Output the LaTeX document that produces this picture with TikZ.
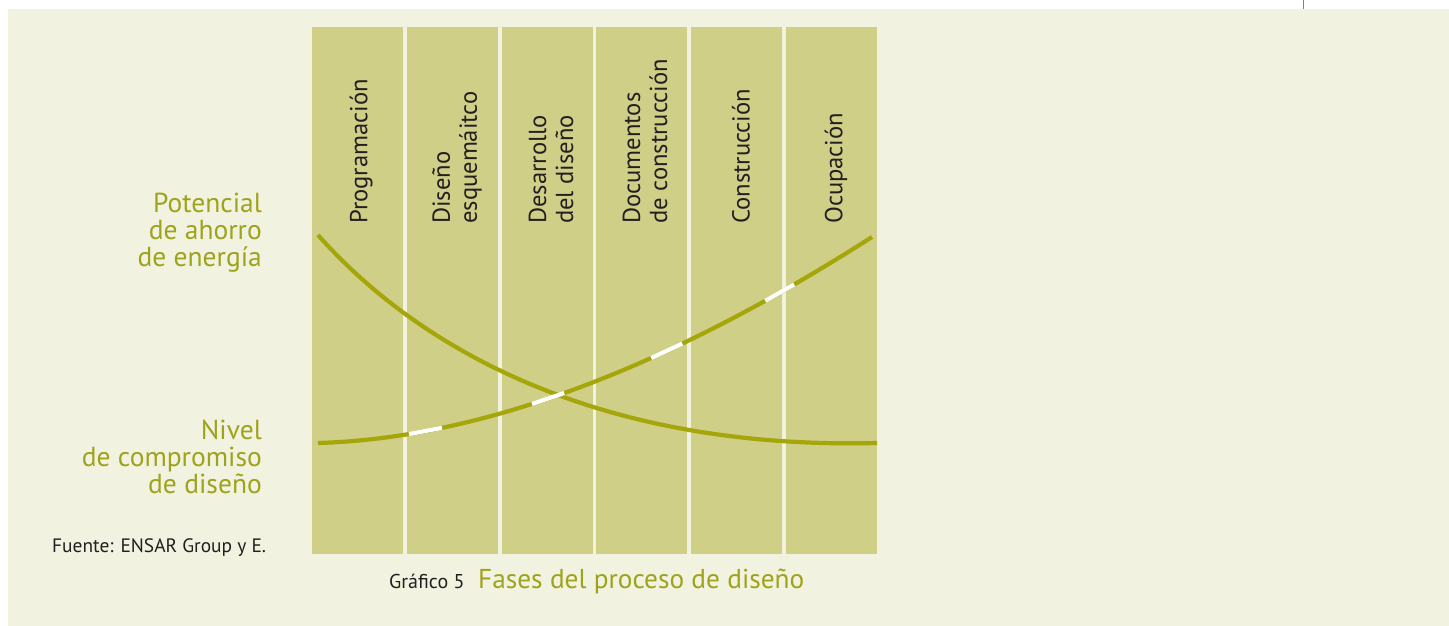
\documentclass[tikz,border=0pt]{standalone}
\usepackage{fontspec}
\setmainfont{PT Sans}
\definecolor{cream}{RGB}{242,242,225}
\definecolor{colfill}{RGB}{208,207,136}
\definecolor{curvecol}{RGB}{165,166,10}
\definecolor{txtgreen}{RGB}{158,163,28}
\definecolor{txtdark}{RGB}{35,31,32}
\definecolor{rulegray}{RGB}{128,128,128}
\tikzset{
  colbox/.style={fill=colfill, draw=none, minimum width=91pt, minimum height=527pt, inner sep=0pt},
  collab/.style={rotate=90, anchor=west, inner sep=0pt, align=left, text=txtdark, font=\fontsize{24.6}{27}\selectfont},
  sidelab/.style={anchor=base east, inner sep=0pt, align=right, text=txtgreen, font=\fontsize{27.5}{27}\selectfont},
  curveline/.style={draw=curvecol, line width=4.2pt},
  whitedash/.style={draw=white, line width=4.2pt},
}
\begin{document}
\begin{tikzpicture}[x=1pt,y=-1pt]
\useasboundingbox (0,0) rectangle (1449,626);
\fill[white] (0,0) rectangle (1449,626);
\fill[cream] (8,9) rectangle (1449,626);
\draw[rulegray, line width=1.5pt] (1303.5,0) -- (1303.5,9);

% columns
\node[colbox] (c1) at (357.5,290.5) {};
\node[colbox] (c2) at (452.5,290.5) {};
\node[colbox] (c3) at (547.5,290.5) {};
\node[colbox] (c4) at (641.5,290.5) {};
\node[colbox] (c5) at (736.5,290.5) {};
\node[colbox] (c6) at (831.5,290.5) {};

% column labels
\node[collab] (l1) at (361,224) {Programación};
\node[collab] (l2) at (457,224) {Diseño\\esquemáitco};
\node[collab] (l3) at (551,224) {Desarrollo\\del diseño};
\node[collab] (l4) at (645,224) {Documentos\\de construcción};
\node[collab] (l5) at (741,224) {Construcción};
\node[collab] (l6) at (836,224) {Ocupación};

% curves
\coordinate (d0) at (318,235);
\coordinate (d1) at (877,443);
\coordinate (u0) at (318,443);
\coordinate (u1) at (872,237);
\draw[curveline] (d0) .. controls (420,350) and (600,450) .. (d1);
\draw[curveline] (u0) .. controls (480,438.3) and (664.7,369.7) .. (u1)
  coordinate[pos=0.1825] (w1a) coordinate[pos=0.2465] (w1b)
  coordinate[pos=0.416] (w2a) coordinate[pos=0.475] (w2b)
  coordinate[pos=0.63] (w3a) coordinate[pos=0.684] (w3b)
  coordinate[pos=0.825] (w4a) coordinate[pos=0.873] (w4b);
\draw[whitedash] (w1a) -- (w1b);
\draw[whitedash] (w2a) -- (w2b);
\draw[whitedash] (w3a) -- (w3b);
\draw[whitedash] (w4a) -- (w4b);

% side labels
\node[sidelab] (pot) at (262,266) {Potencial\\de ahorro\\de energía};
\node[sidelab] (niv) at (262,493) {Nivel\\de compromiso\\de diseño};

% source and caption
\node[anchor=base west, inner sep=0pt, text=txtdark, font=\fontsize{19.4}{19.4}\selectfont] (src) at (52,552) {Fuente: ENSAR Group y E.};
\node[anchor=base west, inner sep=0pt, text=txtdark, font=\fontsize{20}{20}\selectfont] (gr) at (389,588) {Gráfico 5};
\node[anchor=base west, inner sep=0pt, text=txtgreen, font=\fontsize{27.3}{27.3}\selectfont] (tit) at (478,588) {Fases del proceso de diseño};
\end{tikzpicture}
\end{document}
